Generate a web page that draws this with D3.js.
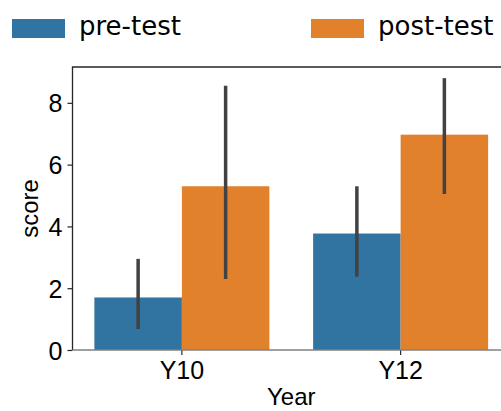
<!DOCTYPE html>
<head>
<meta charset="utf-8">
<style>
body { margin: 0; background: #fff; }
svg { display: block; }
.tick text { font-family: "Liberation Sans", Arial, sans-serif; }
</style>
</head>
<body>
<svg width="501" height="411"></svg>
<script src="https://cdn.jsdelivr.net/npm/d3@7"></script>
<script>

// data
var years = ["Y10", "Y12"];
var groups = ["pre-test", "post-test"];
var preMean = [1.7, 3.77];
var postMean = [5.3, 6.97];
var preLow = [0.68, 2.37], preHigh = [2.95, 5.3];
var postLow = [2.3, 5.05], postHigh = [8.55, 8.8];
var yTicks = [0, 2, 4, 6, 8];

var colors = {"pre-test": "#3274a1", "post-test": "#e1812c"};

var rows = [];
years.forEach(function(y, i){
  rows.push({year: y, group: "pre-test", mean: preMean[i], lo: preLow[i], hi: preHigh[i]});
  rows.push({year: y, group: "post-test", mean: postMean[i], lo: postLow[i], hi: postHigh[i]});
});

var svg = d3.select("svg");
var pLeft = 72.5, pRight = 510, pTop = 67, pBottom = 350;

var x = d3.scaleBand().domain(years).range([pLeft, pRight]).paddingInner(0.2).paddingOuter(0.1);
var xi = d3.scaleBand().domain(groups).range([0, x.bandwidth()]);
var y = d3.scaleLinear().domain([0, 9.16]).range([pBottom, pTop]);

// bars
svg.append("g")
  .selectAll("rect")
  .data(rows)
  .enter().append("rect")
  .attr("x", d => x(d.year) + xi(d.group))
  .attr("width", xi.bandwidth())
  .attr("y", d => y(d.mean))
  .attr("height", d => y(0) - y(d.mean))
  .style("fill", d => colors[d.group]);

// error bars
svg.append("g")
  .selectAll("line")
  .data(rows)
  .enter().append("line")
  .attr("x1", d => x(d.year) + xi(d.group) + xi.bandwidth()/2)
  .attr("x2", d => x(d.year) + xi(d.group) + xi.bandwidth()/2)
  .attr("y1", d => y(d.lo))
  .attr("y2", d => y(d.hi))
  .attr("stroke", "#424242")
  .attr("stroke-width", 3.5);

// y axis
var yAxis = svg.append("g")
  .attr("transform", "translate(" + pLeft + ",0)")
  .call(d3.axisLeft(y).tickValues(yTicks).tickSize(5).tickPadding(5).tickFormat(d3.format("d")));
yAxis.select(".domain").remove();
yAxis.selectAll(".tick line").attr("stroke", "#262626").attr("stroke-width", 1.2);
yAxis.selectAll(".tick text").attr("font-size", 25).attr("fill", "#000").attr("dy", "0.36em");
svg.append("line").attr("x1", pLeft).attr("x2", pLeft).attr("y1", pTop).attr("y2", pBottom)
  .attr("stroke", "#262626").attr("stroke-width", 1.3);

// x axis
var xAxis = svg.append("g")
  .attr("transform", "translate(0," + pBottom + ")")
  .call(d3.axisBottom(x).tickSize(5).tickPadding(6));
xAxis.select(".domain").remove();
xAxis.selectAll(".tick line").attr("stroke", "#262626").attr("stroke-width", 1.2);
xAxis.selectAll(".tick text").attr("font-size", 25).attr("fill", "#000");
svg.append("line").attr("x1", pLeft).attr("x2", pRight).attr("y1", pBottom).attr("y2", pBottom)
  .attr("stroke", "#808080").attr("stroke-width", 1.5);

// top spine
svg.append("line").attr("x1", pLeft - 0.6).attr("x2", pRight).attr("y1", pTop).attr("y2", pTop)
  .attr("stroke", "#262626").attr("stroke-width", 1.3);

// axis labels
svg.append("text")
  .attr("x", (pLeft + pRight) / 2).attr("y", 405)
  .attr("text-anchor", "middle")
  .style("font-family", "Liberation Sans, Arial, sans-serif").style("font-size", "24px")
  .text("Year");

svg.append("text")
  .attr("transform", "translate(38," + (pTop + pBottom) / 2 + ") rotate(-90)")
  .attr("text-anchor", "middle")
  .style("font-family", "Liberation Sans, Arial, sans-serif").style("font-size", "24px")
  .text("score");

// legend
var legendX = [12, 311];
var legend = svg.selectAll(".legend")
  .data(groups)
  .enter().append("g")
  .attr("class", "legend")
  .attr("transform", (d, i) => "translate(" + legendX[i] + ",19)");

legend.append("rect")
  .attr("width", 53).attr("height", 19)
  .style("fill", d => colors[d]);

legend.append("text")
  .attr("x", 67).attr("y", 16)
  .style("font-family", "DejaVu Sans, sans-serif").style("font-size", "26px")
  .text(String);

</script>
</body>
